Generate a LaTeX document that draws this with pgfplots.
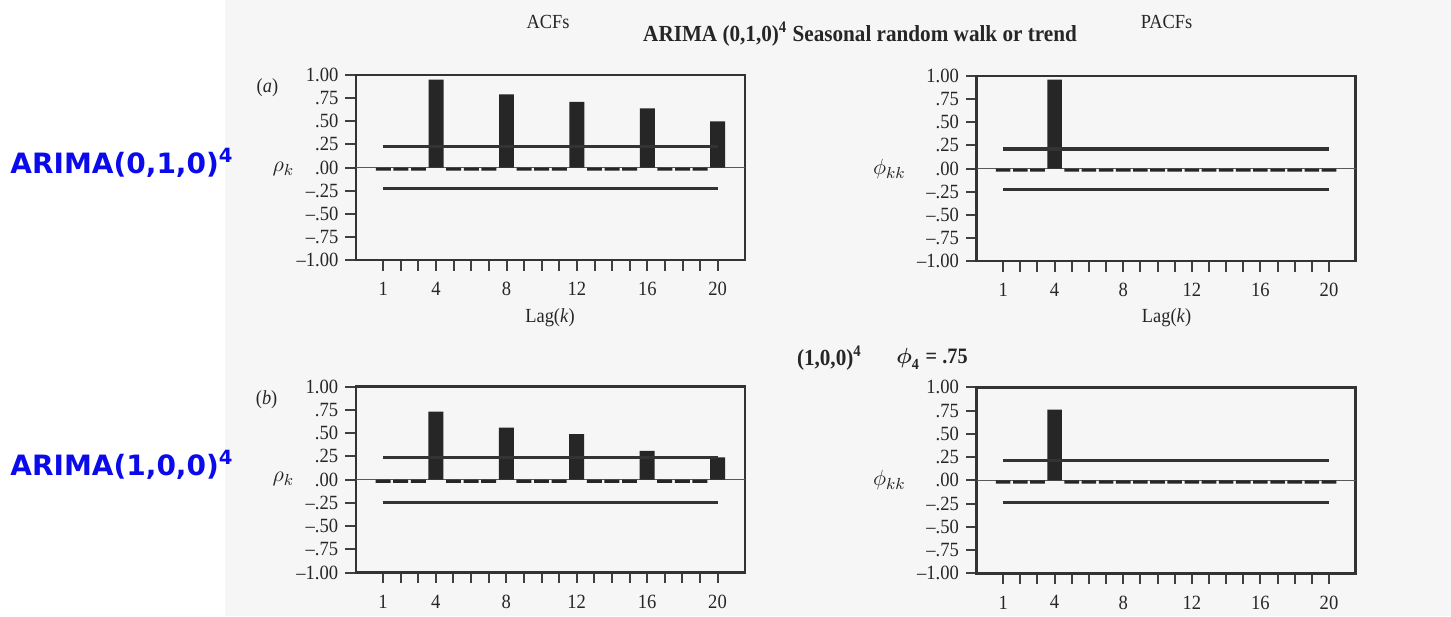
\documentclass[border=0pt]{standalone}
\usepackage{amsmath}
\usepackage{fontspec}
\setmainfont{Liberation Serif}[FakeStretch=0.92]
\newfontfamily\lblfont{DejaVu Sans}
\usepackage{pgfplots}
\pgfplotsset{compat=1.18}
\definecolor{lblblue}{RGB}{10,10,235}
\definecolor{paper}{RGB}{246,246,246}
\pgfplotsset{
  acfstyle/.style={
    scale only axis, anchor=north west,
    xmin=-0.55, xmax=21.55, ymin=-1, ymax=1,
    xtick={1,...,20},
    xticklabels={1,,,4,,,,8,,,,12,,,,16,,,,20},
    ytick={-1,-0.75,-0.5,-0.25,0,0.25,0.5,0.75,1},
    yticklabels={\textendash1.00,\textendash.75,\textendash.50,\textendash.25,.00,.25,.50,.75,1.00},
    xtick pos=bottom, ytick pos=left, tick align=outside,
    major tick length=5.3pt,
    tick style={line width=1pt, black!75},
    axis line style={line width=1.2pt, black!80},
    ticklabel style={font=\fontsize{10.1}{12}\selectfont, text=black!85},
    xticklabel style={yshift=-2.3pt},
  },
  barstyle/.style={ybar, bar width=0.85, fill=black!85, draw=none},
  bandstyle/.style={line width=1.6pt, black!80},
  zerostyle/.style={line width=0.6pt, black!65},
}
\begin{document}
\begin{tikzpicture}
\path[use as bounding box] (0pt,0pt) rectangle (725.5pt,-308pt);
\fill[paper] (112.5pt,0pt) rectangle (725.5pt,-308pt);

% (a) ACF
\begin{axis}[acfstyle, at={(178pt,-37.5pt)}, width=194.5pt, height=92.5pt]
\addplot[zerostyle] coordinates {(-0.55,0) (21.55,0)};
\addplot[barstyle] coordinates {
(1,-0.035) (2,-0.035) (3,-0.035) (4,0.95) (5,-0.035) (6,-0.035) (7,-0.035) (8,0.79)
(9,-0.035) (10,-0.035) (11,-0.035) (12,0.71) (13,-0.035) (14,-0.035) (15,-0.035) (16,0.64)
(17,-0.035) (18,-0.035) (19,-0.035) (20,0.50)};
\addplot[bandstyle] coordinates {(1,0.23) (20,0.23)};
\addplot[bandstyle] coordinates {(1,-0.23) (20,-0.23)};
\end{axis}

% (a) PACF
\begin{axis}[acfstyle, at={(488.3pt,-38pt)}, width=189.5pt, height=92.5pt]
\addplot[zerostyle] coordinates {(-0.55,0) (21.55,0)};
\addplot[barstyle] coordinates {
(1,-0.035) (2,-0.035) (3,-0.035) (4,0.96) (5,-0.035) (6,-0.035) (7,-0.035) (8,-0.035)
(9,-0.035) (10,-0.035) (11,-0.035) (12,-0.035) (13,-0.035) (14,-0.035) (15,-0.035) (16,-0.035)
(17,-0.035) (18,-0.035) (19,-0.035) (20,-0.035)};
\addplot[bandstyle] coordinates {(1,0.21) (20,0.21)};
\addplot[bandstyle] coordinates {(1,-0.23) (20,-0.23)};
\end{axis}

% (b) ACF
\begin{axis}[acfstyle, at={(177.9pt,-193.3pt)}, width=194.5pt, height=93pt]
\addplot[zerostyle] coordinates {(-0.55,0) (21.55,0)};
\addplot[barstyle] coordinates {
(1,-0.035) (2,-0.035) (3,-0.035) (4,0.73) (5,-0.035) (6,-0.035) (7,-0.035) (8,0.56)
(9,-0.035) (10,-0.035) (11,-0.035) (12,0.49) (13,-0.035) (14,-0.035) (15,-0.035) (16,0.31)
(17,-0.035) (18,-0.035) (19,-0.035) (20,0.24)};
\addplot[bandstyle] coordinates {(1,0.24) (20,0.24)};
\addplot[bandstyle] coordinates {(1,-0.25) (20,-0.25)};
\end{axis}

% (b) PACF
\begin{axis}[acfstyle, at={(488.3pt,-193.7pt)}, width=189.5pt, height=93pt]
\addplot[zerostyle] coordinates {(-0.55,0) (21.55,0)};
\addplot[barstyle] coordinates {
(1,-0.035) (2,-0.035) (3,-0.035) (4,0.76) (5,-0.035) (6,-0.035) (7,-0.035) (8,-0.035)
(9,-0.035) (10,-0.035) (11,-0.035) (12,-0.035) (13,-0.035) (14,-0.035) (15,-0.035) (16,-0.035)
(17,-0.035) (18,-0.035) (19,-0.035) (20,-0.035)};
\addplot[bandstyle] coordinates {(1,0.21) (20,0.21)};
\addplot[bandstyle] coordinates {(1,-0.24) (20,-0.24)};
\end{axis}

% texts
\begin{scope}[every node/.style={text=black!85, inner sep=0pt}]
\node[font=\fontsize{10}{12}\selectfont] at (274pt,-11pt) {ACFs};
\node[font=\fontsize{10}{12}\selectfont] at (583.3pt,-11pt) {PACFs};
\node[font=\fontsize{11.5}{13}\selectfont\bfseries] at (430pt,-17pt) {ARIMA (0,1,0)\textsuperscript{4} Seasonal random walk or trend};
\node[font=\fontsize{10}{12}\selectfont] at (133.7pt,-43.7pt) {(\textit{a})};
\node[font=\fontsize{10}{12}\selectfont] at (133.3pt,-200pt) {(\textit{b})};
\node[font=\fontsize{11}{12}\selectfont] at (141.7pt,-84.5pt) {$\rho_k$};
\node[font=\fontsize{11}{12}\selectfont] at (141.7pt,-239.5pt) {$\rho_k$};
\node[font=\fontsize{11}{12}\selectfont] at (444.7pt,-84.5pt) {$\phi_{kk}$};
\node[font=\fontsize{11}{12}\selectfont] at (444.7pt,-240pt) {$\phi_{kk}$};
\node[font=\fontsize{10}{12}\selectfont] at (275pt,-159pt) {Lag(\textit{k})};
\node[font=\fontsize{10}{12}\selectfont] at (583.3pt,-159pt) {Lag(\textit{k})};
\node[font=\fontsize{11.5}{13}\selectfont\bfseries] at (414.7pt,-179pt) {(1,0,0)\textsuperscript{4}};
\node[font=\fontsize{11}{13}\selectfont\bfseries] at (466pt,-179.5pt) {$\boldsymbol{\phi}_{\mathbf{4}}$ = .75};
\end{scope}
\node[anchor=base west, inner sep=0pt, text=lblblue, font=\lblfont\bfseries\fontsize{14}{16}\selectfont] at (5pt,-86.5pt) {ARIMA(0,1,0)\textsuperscript{4}};
\node[anchor=base west, inner sep=0pt, text=lblblue, font=\lblfont\bfseries\fontsize{14}{16}\selectfont] at (5pt,-237.5pt) {ARIMA(1,0,0)\textsuperscript{4}};
\end{tikzpicture}
\end{document}
